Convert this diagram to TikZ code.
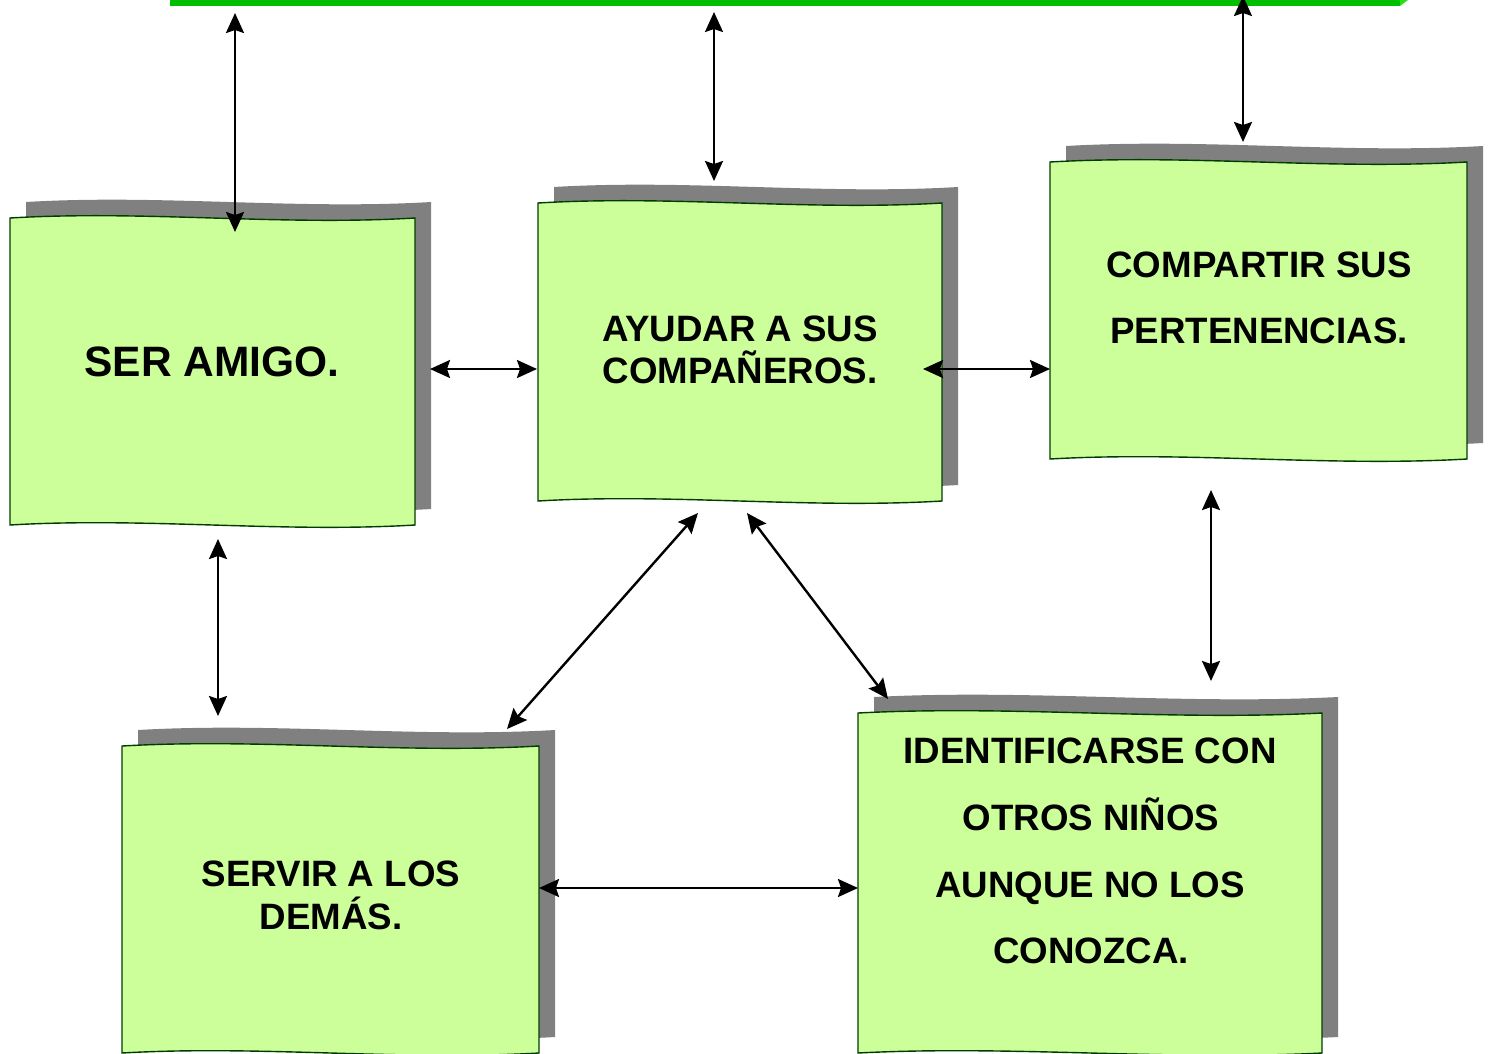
\documentclass[tikz,border=0pt]{standalone}
\usepackage{fontspec}
\setmainfont{Liberation Sans}
\usetikzlibrary{arrows.meta}
\definecolor{barGreen}{RGB}{0,190,0}
\definecolor{barLight}{RGB}{40,225,20}
\definecolor{boxFill}{RGB}{204,255,153}
\definecolor{boxLine}{RGB}{0,60,0}
\definecolor{shadowGray}{RGB}{128,128,128}
\tikzset{
  boxstyle/.style={fill=boxFill, draw=boxLine, line width=1.4pt},
  shadowstyle/.style={fill=shadowGray},
  lbl/.style={anchor=base, inner sep=0pt, font=\bfseries\fontsize{36.7}{42}\selectfont},
  biglbl/.style={anchor=base, inner sep=0pt, font=\bfseries\fontsize{42.5}{50}\selectfont},
  tiphead/.tip={Stealth[length=20pt,width=18pt,inset=3pt]},
  dbl/.style={tiphead-tiphead, line width=2.4pt, black}
}
\newcommand{\wbox}[5]{%
  \pgfmathsetmacro\wxa{#2+(#4-#2)/3}%
  \pgfmathsetmacro\wxb{#2+2*(#4-#2)/3}%
  \begin{scope}[shift={(16,-16)}]
    \fill[shadowstyle] (#2,#3) .. controls (\wxa,#3-8) and (\wxb,#3+8) .. (#4,#3) -- (#4,#5) .. controls (\wxb,#5+8) and (\wxa,#5-8) .. (#2,#5) -- cycle;
  \end{scope}
  \filldraw[boxstyle] (#2,#3) .. controls (\wxa,#3-8) and (\wxb,#3+8) .. (#4,#3) -- (#4,#5) .. controls (\wxb,#5+8) and (\wxa,#5-8) .. (#2,#5) -- cycle;
  \coordinate (#1) at ({(#2+#4)/2},{(#3+#5)/2});
}
\begin{document}
\begin{tikzpicture}[x=1pt,y=-1pt]
\useasboundingbox (0,0) rectangle (1488,1053);
% top bar
\fill[barGreen] (170,-10) rectangle (1400,6);
\fill[barLight] (1400,6) -- (1408,0) -- (1408,-10) -- (1400,-10) -- cycle;

% boxes
\wbox{b1}{10}{218}{415}{525}
\wbox{b2}{538}{203}{942}{501}
\wbox{b3}{1050}{162}{1467}{459}
\wbox{b4}{122}{746}{539}{1053}
\wbox{b5}{858}{713}{1322}{1053}

% texts
\node[biglbl] (t1) at (212,376) {SER AMIGO.};
\node[lbl] (t2a) at (740,341) {AYUDAR A SUS};
\node[lbl] (t2b) at (740,383) {COMPAÑEROS.};
\node[lbl] (t3a) at (1259,277) {COMPARTIR SUS};
\node[lbl] (t3b) at (1259,343) {PERTENENCIAS.};
\node[lbl] (t4a) at (331,886) {SERVIR A LOS};
\node[lbl] (t4b) at (331,929) {DEMÁS.};
\node[lbl] (t5a) at (1090,763) {IDENTIFICARSE CON};
\node[lbl] (t5b) at (1091,830) {OTROS NIÑOS};
\node[lbl] (t5c) at (1090,897) {AUNQUE NO LOS};
\node[lbl] (t5d) at (1091,963) {CONOZCA.};

% arrow end points
\coordinate (a1s) at (235,13);   \coordinate (a1e) at (235,232);
\coordinate (a2s) at (714,12);   \coordinate (a2e) at (714,181);
\coordinate (a3s) at (1243,-4);  \coordinate (a3e) at (1243,142);
\coordinate (a4s) at (430,369);  \coordinate (a4e) at (537,369);
\coordinate (a5s) at (923,369);  \coordinate (a5e) at (1050,369);
\coordinate (a6s) at (218,539);  \coordinate (a6e) at (218,716);
\coordinate (a7s) at (698,513);  \coordinate (a7e) at (507,729);
\coordinate (a8s) at (747,513);  \coordinate (a8e) at (888,699);
\coordinate (a9s) at (1211,490); \coordinate (a9e) at (1211,681);
\coordinate (a10s) at (539,888); \coordinate (a10e) at (858,888);

\foreach \i in {1,...,10}{\draw[dbl] (a\i s) -- (a\i e);}
\end{tikzpicture}
\end{document}
